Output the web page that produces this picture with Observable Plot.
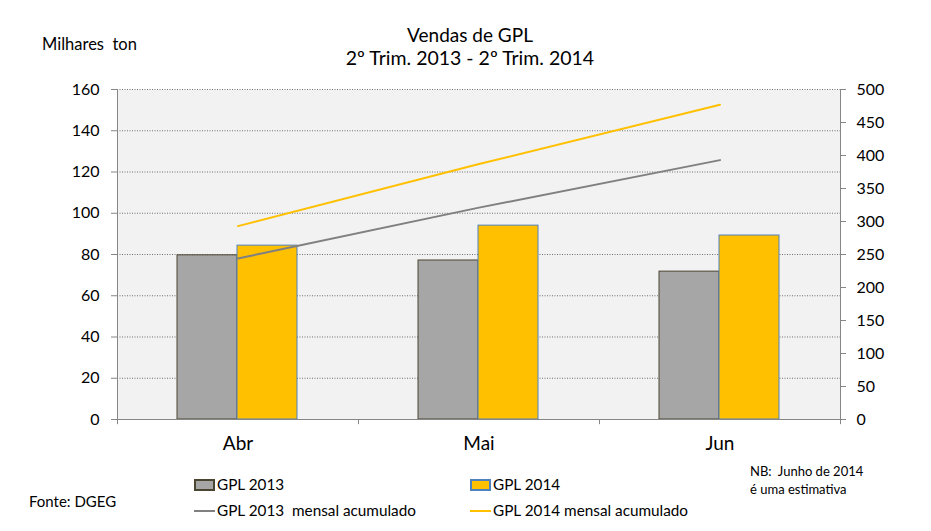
<!DOCTYPE html>
<html>
<head>
<meta charset="utf-8">
<script src="https://cdn.jsdelivr.net/npm/d3@7"></script>
<script src="https://cdn.jsdelivr.net/npm/@observablehq/plot@0.6"></script>
<style>
  html, body { margin: 0; padding: 0; background: #fff; }
  #wrap { position: relative; width: 931px; height: 531px; font-family: Lato, "Open Sans", sans-serif; color: #000; }
  #wrap .t { position: absolute; white-space: pre; line-height: 1; }
  .sw { position: absolute; box-sizing: border-box; }
  .ln { position: absolute; height: 2px; }
</style>
</head>
<body>
<div id="wrap">
  <div id="chart" style="position:absolute;left:0;top:0;"></div>
  <div class="t" style="left:0;width:940px;text-align:center;top:25px;font-size:19px;">Vendas de GPL</div>
  <div class="t" style="left:0;width:940px;text-align:center;top:48px;font-size:19.5px;">2º Trim. 2013 - 2º Trim. 2014</div>
  <div class="t" style="left:42px;top:36px;font-size:16.5px;">Milhares  ton</div>
  <div class="t" style="left:29px;top:494px;font-size:15px;">Fonte: DGEG</div>
  <div class="t" style="left:750px;top:465px;font-size:13px;">NB:  Junho de 2014</div>
  <div class="t" style="left:750px;top:483px;font-size:13px;">é uma estimativa</div>
  <div class="sw" style="left:194px;top:479px;width:21px;height:12px;background:#A6A6A6;border:2px solid #4A4530;"></div>
  <div class="t" style="left:217px;top:477px;font-size:15.3px;">GPL 2013</div>
  <div class="sw" style="left:470px;top:479px;width:21px;height:12px;background:#FFC000;border:2px solid #4F81BD;"></div>
  <div class="t" style="left:493px;top:477px;font-size:15.3px;">GPL 2014</div>
  <div class="ln" style="left:194px;top:510px;width:21px;background:#808080;"></div>
  <div class="t" style="left:217px;top:503px;font-size:15.3px;">GPL 2013  mensal acumulado</div>
  <div class="ln" style="left:470px;top:510px;width:21px;background:#FFC000;"></div>
  <div class="t" style="left:493px;top:503px;font-size:15.3px;">GPL 2014 mensal acumulado</div>
</div>
<script>
const months = ["Abr", "Mai", "Jun"];
const gpl2013 = [79.6, 77.1, 71.7];
const gpl2014 = [84.3, 94.0, 89.2];
const acum2013 = [244, 321, 393];
const acum2014 = [293, 387, 477];
const leftTicks = [0, 20, 40, 60, 80, 100, 120, 140, 160];
const rightTicks = [0, 50, 100, 150, 200, 250, 300, 350, 400, 450, 500];

const k = 160 / 500; // right axis -> left axis units
const rows = months.map((m, i) => ({month: m, v13: gpl2013[i], v14: gpl2014[i], a13: acum2013[i] * k, a14: acum2014[i] * k}));
const axisColor = "#868686";

const chart = Plot.plot({
  width: 931,
  height: 531,
  marginTop: 89,
  marginBottom: 112,
  marginLeft: 117,
  marginRight: 91,
  style: {fontFamily: "Lato, 'Open Sans', sans-serif", fontSize: "16px", color: "#000", background: "transparent", overflow: "visible"},
  x: {type: "band", domain: months, padding: 0},
  y: {domain: [0, 160]},
  marks: [
    Plot.frame({fill: "#F2F2F2", stroke: null}),
    Plot.ruleY(leftTicks.filter(d => d > 0), {stroke: "#6f6f6f", strokeDasharray: "1,1.5", strokeWidth: 1}),
    Plot.barY(rows, {x: "month", y: "v13", fill: "#A6A6A6", stroke: "#4A4530", strokeWidth: 1, insetLeft: 60, insetRight: 121}),
    Plot.barY(rows, {x: "month", y: "v14", fill: "#FFC000", stroke: "#4F81BD", strokeWidth: 1, insetLeft: 120, insetRight: 61}),
    Plot.line(rows, {x: "month", y: "a13", stroke: "#808080", strokeWidth: 2}),
    Plot.line(rows, {x: "month", y: "a14", stroke: "#FFC000", strokeWidth: 2}),
    Plot.ruleY([0], {stroke: axisColor, strokeWidth: 1}),
    // left & right axis lines (frame edges, offset from first/last band centers)
    Plot.ruleX([months[0]], {x: d => d, dx: -120.5, y1: -2.5, y2: 160, stroke: axisColor}),
    Plot.ruleX([months[2]], {x: d => d, dx: 120.5, y1: -2.5, y2: 160, stroke: axisColor}),
    // category boundary ticks
    Plot.ruleX(months.slice(0, 2), {x: d => d, dx: 120.5, y1: 0, y2: -2.5, stroke: axisColor}),
    Plot.axisX({tickSize: 0, tickPadding: 17, fontSize: 19, label: null}),
    Plot.axisY({anchor: "left", ticks: leftTicks, tickSize: 6, tickPadding: 12, stroke: axisColor, label: null, fontSize: 16}),
    Plot.axisY({anchor: "right", ticks: rightTicks.map(d => d * k), tickFormat: d => String(Math.round(d / k)), tickSize: 5, tickPadding: 11, stroke: axisColor, label: null, fontSize: 16})
  ]
});
document.getElementById("chart").appendChild(chart);
</script>
</body>
</html>
